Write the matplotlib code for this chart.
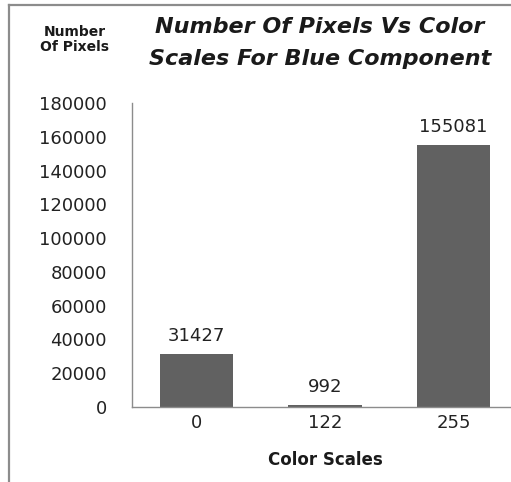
import matplotlib
matplotlib.use("Agg")
import matplotlib.pyplot as plt
from matplotlib.lines import Line2D

plt.rcParams["font.family"] = ["DejaVu Sans"]

categories = ["0", "122", "255"]
values = [31427, 992, 155081]
yticks = [0, 20000, 40000, 60000, 80000, 100000, 120000, 140000, 160000, 180000]

W, H = 511, 482
fig = plt.figure(figsize=(W / 100, H / 100), dpi=100)
fig.patch.set_facecolor("white")

x0, x1 = 132, 518
y_top, y_bot = 103, 407
ax = fig.add_axes([x0 / W, (H - y_bot) / H, (x1 - x0) / W, (y_bot - y_top) / H])

xpos = list(range(len(categories)))
ax.bar(xpos, values, width=0.57, color="#616161", zorder=2)
ax.set_xlim(-0.5, len(categories) - 0.5)
ax.set_ylim(0, 180000)
ax.set_yticks(yticks)
ax.set_yticklabels([str(v) for v in yticks])
ax.set_xticks(xpos)
ax.set_xticklabels(categories)

for s in ["top", "right"]:
    ax.spines[s].set_visible(False)
for s in ["left", "bottom"]:
    ax.spines[s].set_color("#8c8c8c")
    ax.spines[s].set_linewidth(1.0)

ax.tick_params(axis="y", length=0, pad=18, labelsize=13, labelcolor="#222222")
ax.tick_params(axis="x", length=0, pad=5, labelsize=13, labelcolor="#222222")

for xp, v in zip(xpos, values):
    ax.annotate(str(v), (xp, v), xytext=(0, 6.5), textcoords="offset points",
                ha="center", va="bottom", fontsize=13, color="#222222")

ax.set_xlabel("Color Scales", fontsize=12, fontweight="bold",
              color="#1a1a1a", labelpad=14)

fig.text(75 / W, 1 - 32 / H, "Number", ha="center", va="center",
         fontsize=10, fontweight="bold", color="#1a1a1a")
fig.text(75 / W, 1 - 47 / H, "Of Pixels", ha="center", va="center",
         fontsize=10, fontweight="bold", color="#1a1a1a")

fig.text(320 / W, 1 - 27 / H, "Number Of Pixels Vs Color", ha="center", va="center",
         fontsize=16, fontweight="bold", fontstyle="oblique", color="#1a1a1a")
fig.text(320 / W, 1 - 59 / H, "Scales For Blue Component", ha="center", va="center",
         fontsize=16, fontweight="bold", fontstyle="oblique", color="#1a1a1a")

fig.add_artist(Line2D([9 / W, 9 / W], [0, 1 - 5 / H], transform=fig.transFigure,
                      color="#8c8c8c", linewidth=1.6))
fig.add_artist(Line2D([9 / W, 1], [1 - 5 / H, 1 - 5 / H], transform=fig.transFigure,
                      color="#8c8c8c", linewidth=1.6))

fig.savefig("out.png", dpi=100)
